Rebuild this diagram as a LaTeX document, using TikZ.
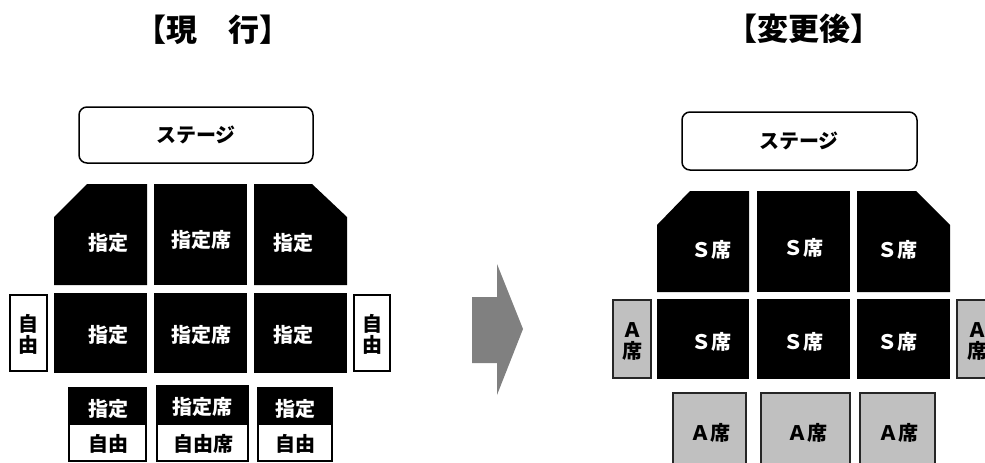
\documentclass[tikz,border=0pt]{standalone}
\usepackage{fontspec}
\usepackage{tikz}
\newfontfamily\jpfont{Noto Sans CJK JP}
\definecolor{seatgray}{HTML}{C0C0C0}
\definecolor{arrowgray}{HTML}{808080}
\tikzset{
  stagebox/.style={draw=black, line width=1.5pt, rounded corners=8pt, fill=white},
  freebox/.style={draw=black, line width=2pt, fill=white},
  aseat/.style={draw=black!85, line width=2pt, fill=seatgray},
  titlelabel/.style={font=\jpfont\bfseries\fontsize{31}{31}\selectfont, inner sep=0pt},
  seatlabel/.style={font=\jpfont\bfseries\fontsize{20}{21}\selectfont, inner sep=0pt, align=center},
  whitelabel/.style={seatlabel, text=white}
}

\begin{document}
\begin{tikzpicture}[x=1pt, y=-1pt]
\useasboundingbox (0,0) rectangle (985,463);

% titles
\node[titlelabel] (nowtitle) at (213,30) {【現　行】};
\node[titlelabel] (newtitle) at (804,29) {【変更後】};

% ---- current layout ----
\draw[stagebox] (79,107) rectangle (313,163);
\node[seatlabel] (nowstage) at (196,135) {ステージ};

\fill[color=black] (87,184) -- (147,184) -- (147,285) -- (54,285) -- (54,217) -- cycle;
\fill[color=black] (154,184) rectangle (247,285);
\fill[color=black] (254,184) -- (312,184) -- (347,217) -- (347,285) -- (254,285) -- cycle;
\fill[color=black] (54,293) rectangle (147,373);
\fill[color=black] (154,293) rectangle (247,373);
\fill[color=black] (254,293) rectangle (347,373);
\draw[freebox] (10,295) rectangle (47,371);
\draw[freebox] (354,295) rectangle (390,371);

\fill[color=black] (68,387) rectangle (147,424);
\fill[color=black] (156,385) rectangle (249,424);
\fill[color=black] (257,387) rectangle (333,424);
\draw[freebox] (69,424) rectangle (146,461);
\draw[freebox] (157,424) rectangle (248,461);
\draw[freebox] (258,424) rectangle (332,461);

\node[whitelabel] (now11) at (108,243) {指定};
\node[whitelabel] (now12) at (201,240) {指定席};
\node[whitelabel] (now13) at (293,243) {指定};
\node[whitelabel] (now21) at (108,335) {指定};
\node[whitelabel] (now22) at (201,335) {指定席};
\node[whitelabel] (now23) at (293,335) {指定};
\node[seatlabel] (nowfreel) at (29,334) {自\\由};
\node[seatlabel] (nowfreer) at (372,334) {自\\由};
\node[whitelabel] (now31) at (108,409) {指定};
\node[whitelabel] (now32) at (202,407) {指定席};
\node[whitelabel] (now33) at (295,409) {指定};
\node[seatlabel] (nowfree1) at (108,444) {自由};
\node[seatlabel] (nowfree2) at (203,444) {自由席};
\node[seatlabel] (nowfree3) at (295,444) {自由};

% arrow
\fill[color=arrowgray] (472,297) -- (497,297) -- (497,264) -- (523,329) -- (497,395) -- (497,363) -- (472,363) -- cycle;

% ---- new layout ----
\draw[stagebox] (682,112) rectangle (917,170);
\node[seatlabel] (newstage) at (799,141) {ステージ};

\fill[color=black] (690,191) -- (749,191) -- (749,292) -- (657,292) -- (657,225) -- cycle;
\fill[color=black] (757,191) rectangle (850,292);
\fill[color=black] (857,191) -- (916,191) -- (950,225) -- (950,292) -- (857,292) -- cycle;
\fill[color=black] (657,299) rectangle (749,379);
\fill[color=black] (757,299) rectangle (850,379);
\fill[color=black] (857,299) rectangle (950,379);
\draw[aseat] (613,300) rectangle (651,378);
\draw[aseat] (957,300) rectangle (996,378);

\draw[aseat] (673,393) rectangle (746,480);
\draw[aseat] (761,393) rectangle (850,480);
\draw[aseat] (860,393) rectangle (935,480);

\node[whitelabel] (new11) at (711,250) {Ｓ席};
\node[whitelabel] (new12) at (803,248) {Ｓ席};
\node[whitelabel] (new13) at (897,250) {Ｓ席};
\node[whitelabel] (new21) at (711,342) {Ｓ席};
\node[whitelabel] (new22) at (803,342) {Ｓ席};
\node[whitelabel] (new23) at (897,342) {Ｓ席};
\node[seatlabel] (newsidel) at (632,341) {Ａ\\席};
\node[seatlabel] (newsider) at (977,341) {Ａ\\席};
\node[seatlabel] (new31) at (710,433) {Ａ席};
\node[seatlabel] (new32) at (807,433) {Ａ席};
\node[seatlabel] (new33) at (898,433) {Ａ席};
\end{tikzpicture}
\end{document}
